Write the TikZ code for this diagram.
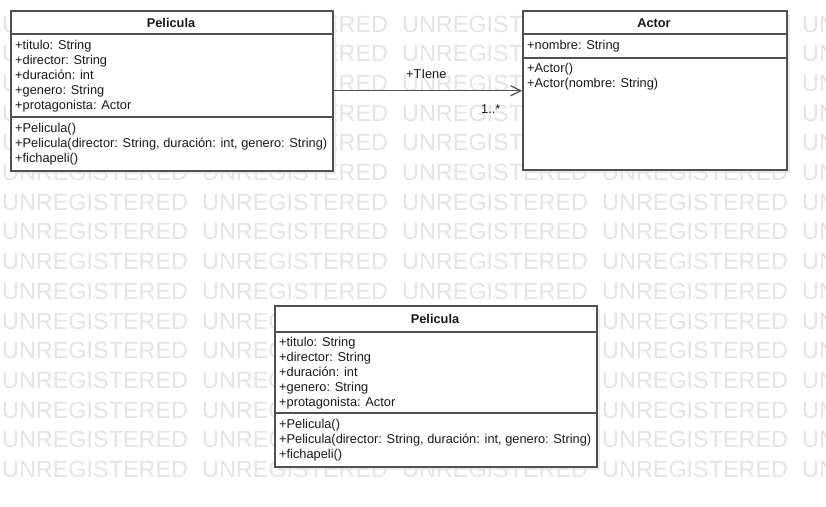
\documentclass[tikz,border=0pt]{standalone}
\usepackage{fontspec}
\setmainfont{Liberation Sans}
\usetikzlibrary{arrows.meta}
\definecolor{bord}{HTML}{505050}
\definecolor{wm}{HTML}{E4E4E4}
\definecolor{shad}{HTML}{EDEDED}
\begin{document}
\begin{tikzpicture}[x=1pt,y=-1pt,
  txt/.style={anchor=base west,inner sep=0pt,font=\fontsize{12.8}{14}\selectfont,text=black!90},
  hdr/.style={anchor=base,inner sep=0pt,font=\fontsize{12.8}{14}\selectfont\bfseries,text=black!90},
  umlbox/.style={draw=bord,line width=1.5pt,fill=white,anchor=north west,inner sep=0pt},
  shadowbox/.style={fill=shad,draw=none,anchor=north west,inner sep=0pt},
  sepline/.style={draw=bord,line width=1.2pt},
  wmk/.style={anchor=west,inner sep=0pt,text=wm,font=\fontsize{23.4}{24}\selectfont}]
\useasboundingbox (0,0) rectangle (826,506);
\fill[white] (0,0) rectangle (826,506);
% shadows
\node[shadowbox,minimum width=322pt,minimum height=160pt] (s1) at (14,14) {};
\node[shadowbox,minimum width=264pt,minimum height=159pt] (s2) at (526,14) {};
\node[shadowbox,minimum width=322pt,minimum height=161pt] (s3) at (278,309) {};
% watermark
\begin{scope}
\clip (0,0) rectangle (826,506);
\foreach \r in {0,...,15}{
  \foreach \c in {0,...,4}{
    \node[wmk] (wm-\r-\c) at (2+200*\c, 24+29.7*\r) {UNREGISTERED};
  }
}
\end{scope}
% top Pelicula
\node[umlbox,minimum width=322pt,minimum height=160pt] (pel1) at (10,10) {};
\draw[sepline] ([yshift=-24pt]pel1.north west) -- ([yshift=-24pt]pel1.north east);
\draw[sepline] ([yshift=-107pt]pel1.north west) -- ([yshift=-107pt]pel1.north east);
\node[hdr] (pel1h) at (171,27) {Pelicula};
\node[txt] (pel1a1) at (15,49) {+titulo: String};
\node[txt] (pel1a2) at (15,64) {+director: String};
\node[txt] (pel1a3) at (15,79) {+duración: int};
\node[txt] (pel1a4) at (15,94) {+genero: String};
\node[txt] (pel1a5) at (15,109) {+protagonista: Actor};
\node[txt] (pel1m1) at (15,132) {+Pelicula()};
\node[txt] (pel1m2) at (15,147) {+Pelicula(director: String, duración: int, genero: String)};
\node[txt] (pel1m3) at (15,162) {+fichapeli()};
% Actor
\node[umlbox,minimum width=264pt,minimum height=159pt] (actor) at (522,10) {};
\draw[sepline] ([yshift=-24pt]actor.north west) -- ([yshift=-24pt]actor.north east);
\draw[sepline] ([yshift=-48pt]actor.north west) -- ([yshift=-48pt]actor.north east);
\node[hdr] (acth) at (654,27) {Actor};
\node[txt] (acta1) at (527,49) {+nombre: String};
\node[txt] (actm1) at (527,72) {+Actor()};
\node[txt] (actm2) at (527,87) {+Actor(nombre: String)};
% association
\draw[draw=bord,line width=1.2pt,-{Straight Barb[length=10pt,width=10pt,line width=1.2pt]}]
  (pel1.east) -- (pel1.east -| actor.west);
\node[txt] (tiene) at (406,78) {+TIene};
\node[txt] (mult) at (481,113) {1..*};
% bottom Pelicula
\node[umlbox,minimum width=322pt,minimum height=161pt] (pel2) at (274,305) {};
\draw[sepline] ([yshift=-27pt]pel2.north west) -- ([yshift=-27pt]pel2.north east);
\draw[sepline] ([yshift=-108pt]pel2.north west) -- ([yshift=-108pt]pel2.north east);
\node[hdr] (pel2h) at (435,323) {Pelicula};
\node[txt] (pel2a1) at (279,346) {+titulo: String};
\node[txt] (pel2a2) at (279,361) {+director: String};
\node[txt] (pel2a3) at (279,376) {+duración: int};
\node[txt] (pel2a4) at (279,391) {+genero: String};
\node[txt] (pel2a5) at (279,406) {+protagonista: Actor};
\node[txt] (pel2m1) at (279,428) {+Pelicula()};
\node[txt] (pel2m2) at (279,443) {+Pelicula(director: String, duración: int, genero: String)};
\node[txt] (pel2m3) at (279,458) {+fichapeli()};
\end{tikzpicture}
\end{document}
